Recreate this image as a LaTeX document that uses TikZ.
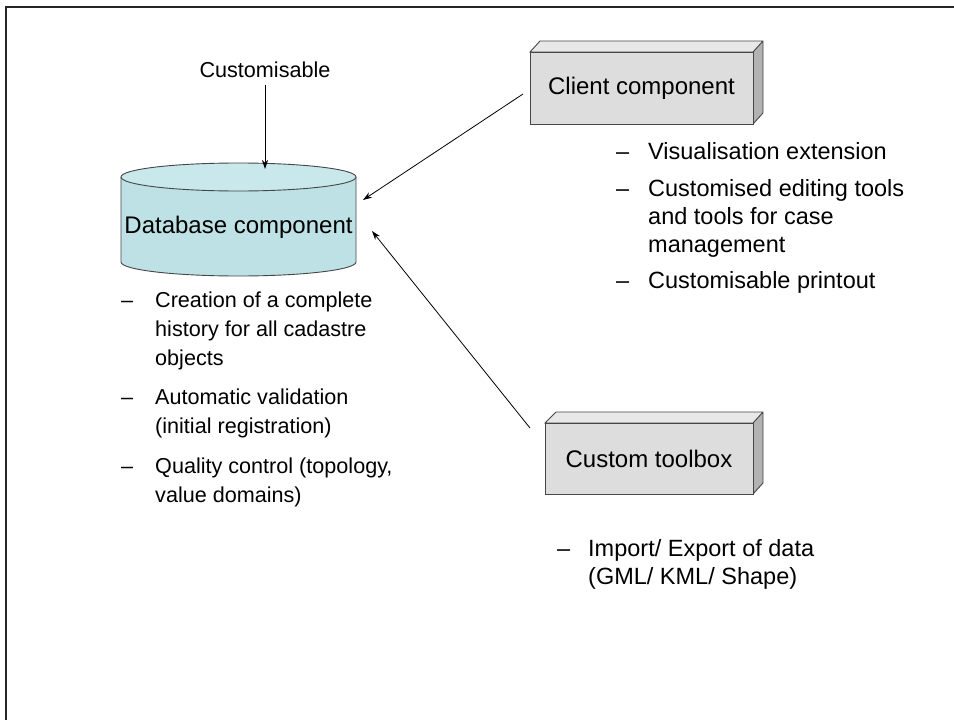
\documentclass[tikz,border=0pt]{standalone}
\usepackage{fontspec}
\setmainfont{Liberation Sans}
\usetikzlibrary{arrows.meta}
\definecolor{dbfill}{RGB}{189,225,228}
\definecolor{dbtop}{RGB}{200,232,235}
\definecolor{boxfront}{RGB}{221,221,221}
\definecolor{boxtop}{RGB}{232,232,232}
\definecolor{boxside}{RGB}{178,178,178}
\definecolor{boxline}{RGB}{70,70,70}
\tikzset{
  frame/.style={line width=2.4pt, black!85},
  shapeline/.style={draw=boxline, line width=0.9pt},
  conn/.style={line width=0.8pt, -{Stealth[length=9pt,width=6pt]}},
  boxlabel/.style={font=\fontsize{24}{29}\selectfont, inner sep=0pt},
  itemtext/.style={font=\fontsize{21.6}{29}\selectfont, anchor=base west, align=left, inner sep=0pt},
  dashtext/.style={font=\fontsize{21.6}{29}\selectfont, anchor=base west, inner sep=0pt},
  bigitem/.style={font=\fontsize{23.5}{28}\selectfont, anchor=base west, align=left, inner sep=0pt},
  bigdash/.style={font=\fontsize{23.5}{28}\selectfont, anchor=base west, inner sep=0pt}
}
\begin{document}
\begin{tikzpicture}[x=1pt,y=-1pt]
\useasboundingbox (0,0) rectangle (954,720);
% frame
\draw[frame] (954,7) -- (6,7) -- (6,720);

% database cylinder
\fill[dbfill] (121,177) -- (121,262) arc[start angle=180,end angle=0,x radius=117.5,y radius=14]
  -- (356,177) arc[start angle=0,end angle=-180,x radius=117.5,y radius=14] -- cycle;
\fill[dbtop] (238.5,177) ellipse [x radius=117.5, y radius=14];
\draw[shapeline] (238.5,177) ellipse [x radius=117.5, y radius=14];
\draw[shapeline] (121,177) -- (121,262) arc[start angle=180,end angle=0,x radius=117.5,y radius=14] -- (356,177);
\node[boxlabel] (db) at (238.5,227) {Database component};

% client component box
\fill[boxtop] (530,52) -- (540,41) -- (763,41) -- (753,52) -- cycle;
\fill[boxside] (753,52) -- (763,41) -- (763,113) -- (753,124) -- cycle;
\draw[shapeline] (530,52) -- (540,41) -- (763,41) -- (763,113) -- (753,124) -- (753,52) -- cycle (753,52) -- (763,41);
\node[boxlabel, fill=boxfront, draw=boxline, line width=0.9pt, minimum width=223pt, minimum height=72pt] (client) at (641.5,88) {Client component};

% custom toolbox box
\fill[boxtop] (545,423) -- (556,412) -- (763,412) -- (753,423) -- cycle;
\fill[boxside] (753,423) -- (763,412) -- (763,483) -- (753,494) -- cycle;
\draw[shapeline] (545,423) -- (556,412) -- (763,412) -- (763,483) -- (753,494) -- (753,423) -- cycle (753,423) -- (763,412);
\node[boxlabel, fill=boxfront, draw=boxline, line width=0.9pt, minimum width=208pt, minimum height=71pt] (toolbox) at (649,458.5) {Custom toolbox};

% labels
\node[font=\fontsize{21.6}{29}\selectfont, inner sep=0pt] (cust) at (265,70) {Customisable};

% connector end points
\coordinate (custend) at (265,169);
\coordinate (c1) at (523,94);
\coordinate (d1) at (363,200);
\coordinate (t1) at (530,428);
\coordinate (d2) at (372,231);
\draw[conn] ([yshift=-7pt]cust.south) -- (custend);
\draw[conn] (c1) -- (d1);
\draw[conn] (t1) -- (d2);

% database bullets (anchor is the baseline of the last line)
\node[dashtext] (dbd1) at (121,307) {–};
\node[itemtext] (dbi1) at (155,365) {Creation of a complete\\history for all cadastre\\objects};
\node[dashtext] (dbd2) at (121,404) {–};
\node[itemtext] (dbi2) at (155,433) {Automatic validation\\(initial registration)};
\node[dashtext] (dbd3) at (121,473) {–};
\node[itemtext] (dbi3) at (155,502) {Quality control (topology,\\value domains)};

% client bullets
\node[bigdash] (cld1) at (616,159) {–};
\node[bigitem] (cli1) at (648,159) {Visualisation extension};
\node[bigdash] (cld2) at (616,196) {–};
\node[bigitem] (cli2) at (648,252) {Customised editing tools\\and tools for case\\management};
\node[bigdash] (cld3) at (616,288) {–};
\node[bigitem] (cli3) at (648,288) {Customisable printout};

% toolbox bullets
\node[bigdash] (tbd1) at (557,556) {–};
\node[bigitem] (tbi1) at (588,584) {Import/ Export of data\\(GML/ KML/ Shape)};
\end{tikzpicture}
\end{document}
